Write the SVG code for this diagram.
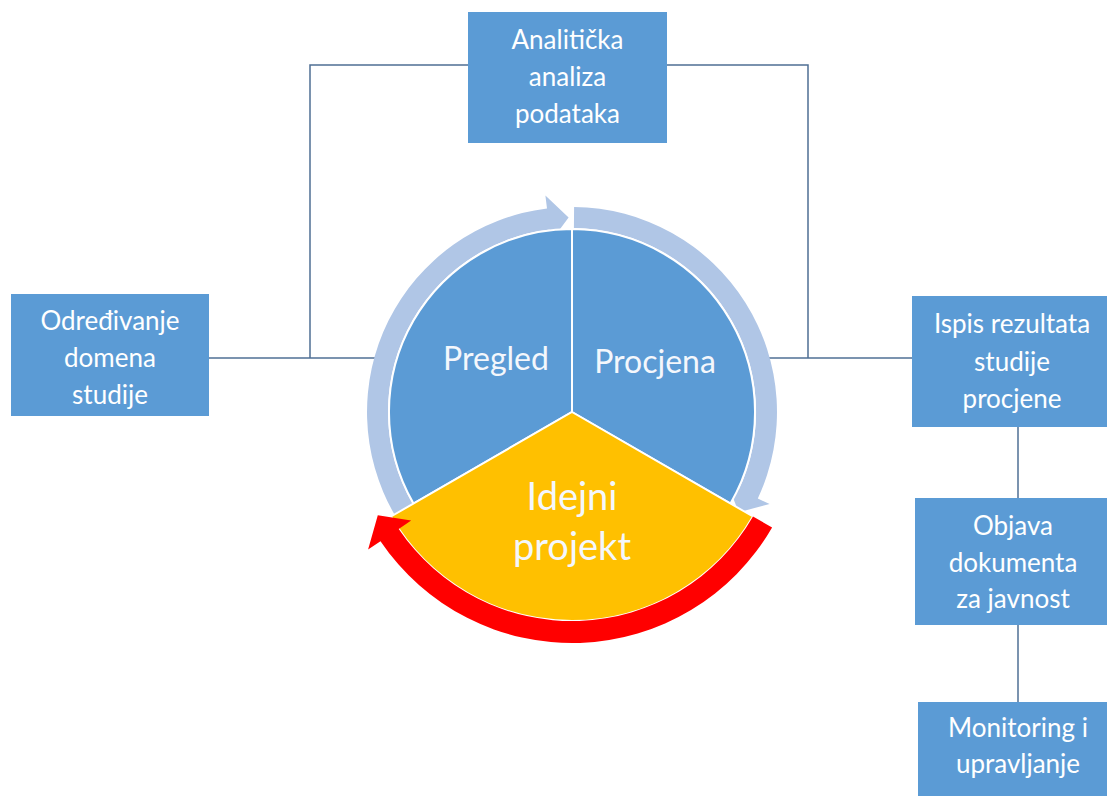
<svg xmlns="http://www.w3.org/2000/svg" width="1107" height="796" viewBox="0 0 1107 796">
<style>
.box{fill:#5b9bd5;}
.bt{font-family:Lato,"Open Sans",sans-serif;font-size:26px;fill:#ffffff;text-anchor:middle;}
.ct{font-family:Lato,"Open Sans",sans-serif;fill:#f4f7fc;text-anchor:middle;}
.conn{fill:none;stroke:#4f6f94;stroke-width:1.5;}
.wedge{fill:#5b9bd5;stroke:#ffffff;stroke-width:2;}
.ring{fill:#b0c6e6;}
</style>
<rect width="1107" height="796" fill="#ffffff"/>
<g id="connectors">
<path class="conn" d="M468,65 H310 V358"/>
<path class="conn" d="M209,358 H380"/>
<path class="conn" d="M667,65 H808 V358"/>
<path class="conn" d="M768,358 H912"/>
<path class="conn" d="M1018,427 V498"/>
<path class="conn" d="M1018,625 V702"/>
</g>
<g id="cycle" transform="translate(572,412)">
<g id="ring-pregled"><path class="ring" d="M-177.5,102.5 A205,205 0 0 1 -25,-203.5 L-26.6,-216.4 L-3.4,-194.5 L-21,-170.7 L-22.4,-182.6 A184,184 0 0 0 -159.3,92 Z"/></g>
<g id="ring-procjena"><path class="ring" d="M2.1,-205 A205,205 0 0 1 185.8,86.6 L197.6,92.1 L166.7,100.2 L155.9,72.7 L166.8,77.8 A184,184 0 0 0 1.9,-184 Z"/></g>
<g id="pregled"><path class="wedge" d="M0,0 L-158.5,91.5 A183,183 0 0 1 0,-183 Z"/>
<text class="ct" x="-76" y="-42" font-size="32">Pregled</text></g>
<g id="procjena"><path class="wedge" d="M0,0 L0,-183 A183,183 0 0 1 158.5,91.5 Z"/>
<text class="ct" x="83" y="-39" font-size="32">Procjena</text></g>
<g id="idejni-projekt"><path d="M0,0 L181,104.5 A209,209 0 0 1 -181,104.5 Z" fill="#ffc000" stroke="#ffffff" stroke-width="2"/>
<text class="ct" x="0" y="98" font-size="38">Idejni</text>
<text class="ct" x="0" y="148" font-size="38">projekt</text></g>
<g id="red-arrow"><path fill="#ff0000" d="M181,104.5 L200.1,115.5 A231,231 0 0 1 -191.5,129.2 L-203.9,137.6 L-194.2,103.3 L-160.8,108.5 L-173.3,116.9 A209,209 0 0 0 181,104.5 Z"/></g>
</g>
<g id="analiticka">
<rect class="box" x="468" y="12" width="199" height="131"/>
<text class="bt" x="567.5" y="49">Analitička</text>
<text class="bt" x="567.5" y="86">analiza</text>
<text class="bt" x="567.5" y="123">podataka</text>
</g>
<g id="odredivanje">
<rect class="box" x="11" y="294" width="198" height="122"/>
<text class="bt" x="110" y="330">Određivanje</text>
<text class="bt" x="110" y="367">domena</text>
<text class="bt" x="110" y="404">studije</text>
</g>
<g id="ispis">
<rect class="box" x="912" y="296" width="195" height="131"/>
<text class="bt" x="1012" y="333">Ispis rezultata</text>
<text class="bt" x="1012" y="371">studije</text>
<text class="bt" x="1012" y="408">procjene</text>
</g>
<g id="objava">
<rect class="box" x="915" y="498" width="192" height="127"/>
<text class="bt" x="1013" y="535">Objava</text>
<text class="bt" x="1013" y="572">dokumenta</text>
<text class="bt" x="1013" y="608">za javnost</text>
</g>
<g id="monitoring">
<rect class="box" x="918" y="702" width="189" height="94"/>
<text class="bt" x="1018" y="737">Monitoring i</text>
<text class="bt" x="1018" y="773">upravljanje</text>
</g>
</svg>
